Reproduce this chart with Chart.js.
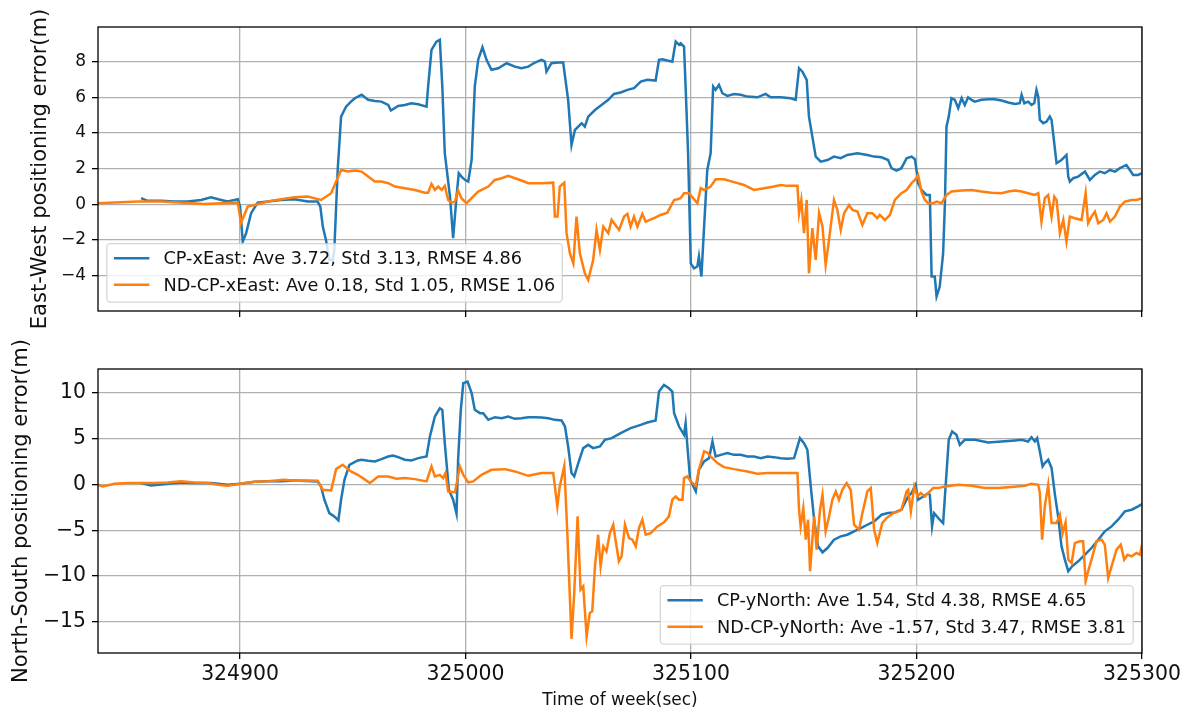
<!DOCTYPE html>
<html>
<head>
<meta charset="utf-8">
<title>Positioning error</title>
<script src="https://cdn.jsdelivr.net/npm/chart.js@4.4.1/dist/chart.umd.min.js"></script>
<style>
  html, body { margin: 0; padding: 0; background: #fff; }
  #wrap { position: relative; width: 1193px; height: 713px; overflow: hidden; }
  canvas { position: absolute; left: 0; }
  #east { top: 0; }
  #north { top: 340px; }
</style>
</head>
<body>
<div id="wrap">
  <canvas id="east" width="1193" height="340"></canvas>
  <canvas id="north" width="1193" height="373"></canvas>
</div>
<script>
// ---- tick values ----
const timeTicks = [324900, 325000, 325100, 325200, 325300];
const eastTicks = [-4, -2, 0, 2, 4, 6, 8];
const northTicks = [-15, -10, -5, 0, 5, 10];

// ---- legend labels ----
const eastLabels = [
  'CP-xEast: Ave 3.72, Std 3.13, RMSE 4.86',
  'ND-CP-xEast: Ave 0.18, Std 1.05, RMSE 1.06'
];
const northLabels = [
  'CP-yNorth: Ave 1.54, Std 4.38, RMSE 4.65',
  'ND-CP-yNorth: Ave -1.57, Std 3.47, RMSE 3.81'
];

// ---- East-West error, CP solution ----
const eastTimeCP = [324856.1,324859.0,324865.0,324870.9,324876.8,324882.7,324887.1,324891.6,324894.5,324899.0,324900.0,324901.2,324902.7,324904.9,324907.8,324912.3,324918.2,324924.1,324930.0,324934.4,324935.6,324936.7,324938.1,324939.6,324941.1,324941.8,324943.3,324944.8,324947.0,324949.2,324950.9,324953.9,324956.8,324959.8,324962.7,324965.7,324966.9,324970.1,324973.1,324976.0,324979.0,324982.7,324983.4,324984.9,324987.1,324988.6,324989.7,324990.8,324993.1,324994.5,324996.0,324997.0,324998.2,324999.7,325001.2,325002.7,325004.1,325005.6,325007.5,325009.3,325011.5,325014.5,325018.2,325021.9,325024.8,325027.8,325030.8,325033.7,325035.2,325035.9,325038.1,325041.1,325043.3,325045.5,325047.0,325048.5,325051.5,325052.9,325054.4,325057.4,325060.3,325063.3,325065.8,325068.8,325071.8,325074.7,325077.7,325080.6,325084.3,325085.8,325087.3,325089.5,325091.7,325093.2,325094.7,325095.4,325096.9,325097.6,325098.7,325099.9,325101.3,325102.8,325103.5,325104.6,325105.8,325107.2,325108.7,325109.8,325110.9,325112.4,325113.9,325116.1,325119.1,325122.0,325125.0,325129.4,325133.1,325135.3,325139.8,325144.2,325146.4,325147.9,325149.4,325151.3,325152.3,325153.8,325155.3,325157.5,325160.5,325163.4,325166.4,325169.3,325173.8,325178.2,325181.2,325184.5,325187.4,325188.9,325191.1,325193.3,325195.6,325197.8,325199.3,325200.0,325200.7,325202.2,325204.4,325205.9,325206.7,325208.1,325208.9,325210.3,325211.8,325212.6,325213.3,325214.3,325215.5,325217.0,325218.5,325220.0,325221.4,325222.9,325224.4,325225.9,325228.8,325231.8,325234.7,325237.7,325240.7,325243.6,325245.8,325246.6,325247.8,325249.5,325251.0,325252.2,325253.2,325254.0,325254.7,325256.2,325257.7,325259.1,325259.9,325262.1,325264.3,325266.5,325267.3,325268.0,325269.5,325271.7,325274.7,325276.9,325279.1,325281.3,325283.5,325285.8,325288.0,325290.2,325293.1,325296.1,325298.3,325300.0];
const eastCP = [0.34,0.19,0.19,0.15,0.15,0.24,0.39,0.24,0.15,0.28,-0.13,-2.09,-1.62,-0.50,0.09,0.15,0.24,0.28,0.15,0.15,-0.13,-1.25,-2.00,-3.12,-3.12,-2.56,1.92,4.91,5.47,5.75,5.94,6.13,5.85,5.79,5.75,5.56,5.25,5.51,5.56,5.66,5.60,5.47,6.59,8.65,9.11,9.21,6.59,2.86,0.43,-1.90,0.43,1.74,1.55,1.37,1.27,2.48,6.59,8.09,8.80,8.09,7.53,7.62,7.90,7.71,7.62,7.71,7.94,8.09,7.99,7.43,7.90,7.94,7.94,5.85,3.32,4.16,4.54,4.35,4.91,5.28,5.56,5.85,6.18,6.26,6.41,6.50,6.87,6.97,6.93,8.09,8.12,8.05,7.99,9.11,8.93,9.02,8.83,6.59,2.86,-3.31,-3.59,-3.49,-2.93,-4.05,-1.25,1.92,2.86,6.59,6.41,6.69,6.22,6.07,6.18,6.13,6.03,5.99,6.18,5.99,5.99,5.94,5.85,7.62,7.43,6.97,4.91,3.79,2.67,2.39,2.48,2.67,2.58,2.76,2.86,2.76,2.67,2.63,2.48,2.02,1.89,2.02,2.58,2.67,2.52,1.92,1.18,0.80,0.52,0.52,-4.05,-4.05,-5.17,-4.61,-2.75,0.06,4.35,4.91,5.94,5.85,5.38,5.94,5.56,5.99,5.85,5.75,5.85,5.88,5.88,5.81,5.70,5.62,5.66,6.13,5.66,5.75,5.56,5.66,6.41,6.03,4.72,4.54,4.63,4.91,4.72,2.30,2.48,2.76,1.55,1.27,1.46,1.55,1.83,1.36,1.64,1.83,1.74,1.92,1.83,2.02,2.20,1.64,1.64,1.74];

// ---- East-West error, ND-CP solution ----
const eastTimeND = [324836.9,324854.6,324865.0,324884.2,324899.0,324900.4,324903.4,324906.4,324912.3,324918.2,324924.1,324930.0,324935.9,324940.4,324944.8,324947.8,324950.9,324953.9,324956.8,324959.8,324962.7,324965.7,324968.7,324973.1,324977.5,324982.0,324983.4,324984.9,324986.4,324987.9,324989.4,324990.8,324992.3,324993.8,324995.3,324996.7,324998.2,325000.4,325002.7,325005.6,325010.1,325013.0,325016.0,325018.9,325021.9,325024.8,325027.8,325033.7,325038.9,325039.6,325040.8,325041.8,325043.8,325044.8,325046.3,325047.8,325049.2,325050.7,325052.9,325054.4,325056.6,325058.1,325059.6,325061.1,325063.3,325064.8,325068.1,325070.3,325071.8,325073.2,325074.7,325076.2,325078.4,325079.9,325083.6,325086.5,325089.5,325092.5,325093.9,325095.4,325096.9,325099.1,325102.8,325104.3,325105.8,325108.7,325110.9,325114.6,325118.3,325123.5,325127.9,325132.4,325136.8,325139.8,325142.7,325147.2,325147.9,325148.9,325150.1,325151.3,325152.3,325153.8,325155.3,325156.8,325158.3,325159.7,325161.2,325163.4,325164.9,325166.4,325167.9,325170.1,325171.6,325173.8,325176.0,325178.2,325180.4,325182.6,325183.7,325186.0,325188.2,325190.4,325193.3,325195.6,325197.8,325199.3,325200.7,325202.2,325203.7,325205.2,325207.4,325208.9,325211.1,325213.3,325215.5,325220.0,325224.4,325228.8,325233.3,325237.7,325240.7,325243.6,325246.6,325249.5,325252.5,325254.0,325255.4,325256.9,325258.4,325259.9,325261.1,325262.1,325263.6,325265.1,325266.5,325268.0,325270.2,325273.2,325275.0,325276.1,325277.6,325279.1,325280.6,325282.8,325284.3,325285.8,325288.0,325290.2,325292.4,325295.4,325297.6,325300.0];
const eastND = [0.06,0.15,0.15,0.02,0.09,-1.06,-0.13,-0.04,0.15,0.28,0.39,0.43,0.24,0.62,1.92,1.83,1.89,1.83,1.55,1.27,1.27,1.18,0.99,0.90,0.80,0.65,0.65,1.14,0.80,0.99,0.80,1.03,0.24,0.09,0.15,0.77,0.34,0.06,0.34,0.71,0.99,1.36,1.46,1.59,1.46,1.33,1.18,1.18,1.21,-0.69,-0.69,0.99,1.21,-1.62,-2.75,-3.31,-0.69,-2.75,-3.87,-4.24,-3.12,-1.44,-2.56,-1.25,-1.62,-0.88,-1.44,-0.69,-0.54,-1.25,-0.69,-1.25,-0.54,-0.97,-0.78,-0.60,-0.47,0.24,0.28,0.34,0.62,0.62,0.06,0.90,0.80,0.99,1.40,1.40,1.27,1.08,0.80,0.90,0.99,1.08,1.03,1.03,-0.50,0.24,-1.62,0.24,-3.87,-1.34,-3.12,-0.50,-1.25,-3.40,-2.00,0.24,-0.32,-1.44,-0.50,-0.04,-0.32,-0.41,-1.16,-0.50,-0.50,-0.78,-0.60,-0.88,-0.60,0.24,0.62,0.80,1.18,1.36,1.64,0.71,0.24,0.06,0.06,0.15,0.06,0.52,0.71,0.77,0.80,0.71,0.65,0.62,0.71,0.77,0.71,0.62,0.52,0.62,-0.97,0.34,0.52,-0.69,0.43,0.24,-1.62,-0.88,-2.09,-0.69,-0.78,-0.88,0.62,-1.06,-0.69,-0.41,-1.06,-0.88,-0.50,-0.97,-0.69,-0.13,0.15,0.24,0.24,0.34];

// ---- North-South error, CP solution ----
const northTimeCP = [324856.1,324860.5,324865.0,324873.8,324879.7,324887.1,324894.5,324900.0,324906.4,324912.3,324918.2,324924.1,324934.4,324935.9,324937.4,324939.6,324941.8,324943.6,324944.8,324946.3,324948.5,324952.2,324953.9,324956.8,324959.8,324962.7,324965.7,324967.9,324970.1,324973.1,324976.0,324979.0,324982.7,324984.2,324986.4,324988.6,324989.7,324990.8,324992.6,324994.5,324996.0,324996.7,324997.9,324999.0,325000.9,325002.7,325004.1,325006.4,325007.8,325010.1,325013.0,325016.0,325018.9,325021.9,325024.8,325027.8,325030.8,325033.7,325036.7,325039.6,325042.6,325044.1,325045.5,325047.0,325048.2,325050.0,325052.2,325054.4,325056.6,325059.6,325061.8,325064.8,325068.8,325073.2,325077.7,325080.6,325084.3,325085.8,325088.0,325090.2,325091.7,325092.5,325094.7,325096.9,325097.6,325098.4,325099.6,325102.1,325103.5,325105.8,325108.0,325109.5,325110.9,325113.2,325116.1,325119.1,325122.0,325125.0,325127.9,325130.9,325133.9,325136.8,325139.8,325142.7,325145.7,325148.3,325150.1,325151.6,325153.1,325154.6,325156.3,325158.3,325160.5,325163.4,325166.4,325169.3,325172.3,325175.3,325178.2,325181.2,325184.5,325187.4,325190.4,325193.3,325196.3,325197.8,325199.6,325200.7,325203.0,325205.2,325205.9,325206.9,325207.8,325210.3,325211.8,325212.9,325214.3,325215.8,325217.7,325219.2,325221.4,325225.9,325231.8,325237.7,325243.6,325246.6,325249.5,325251.0,325252.5,325253.5,325254.7,325255.9,325256.9,325258.4,325259.9,325261.4,325262.8,325264.3,325265.8,325267.3,325269.0,325271.7,325274.7,325277.6,325280.6,325283.5,325286.5,325289.4,325292.4,325295.4,325298.3,325300.0];
const northCP = [0.15,-0.11,0.00,0.22,0.15,0.15,-0.04,0.07,0.29,0.36,0.36,0.44,0.33,-0.22,-1.67,-3.13,-3.49,-3.92,-1.67,0.51,2.14,2.62,2.69,2.58,2.51,2.76,3.05,3.16,2.98,2.69,2.62,2.87,3.05,5.23,7.41,8.32,8.14,4.51,-0.58,-1.67,-3.20,2.69,8.14,11.05,11.23,9.96,8.14,7.78,7.78,7.05,7.34,7.23,7.41,7.16,7.23,7.34,7.34,7.30,7.23,7.05,6.98,6.32,4.14,1.24,0.87,2.33,3.96,4.32,3.96,4.14,4.87,5.05,5.60,6.14,6.50,6.76,6.98,10.14,10.86,10.50,10.14,7.78,6.32,5.41,6.69,4.14,0.51,-0.76,1.60,2.51,2.87,4.69,3.05,3.23,3.42,3.23,3.23,3.05,3.05,2.87,3.05,2.98,2.87,2.80,2.87,5.05,4.51,3.78,-0.22,-3.85,-6.76,-7.41,-6.94,-6.03,-5.67,-5.49,-5.12,-4.76,-4.40,-4.03,-3.31,-3.13,-3.05,-2.76,-1.31,-0.94,-0.04,-1.67,-1.31,-0.94,-1.13,-4.58,-3.13,-3.85,-4.22,-0.22,4.87,5.78,5.41,4.32,4.87,4.87,4.58,4.69,4.80,4.87,4.69,5.16,4.69,5.05,3.60,1.96,2.33,2.69,1.78,-1.13,-3.49,-6.76,-8.21,-9.48,-8.94,-8.39,-7.67,-6.94,-6.03,-5.12,-4.58,-3.85,-2.94,-2.76,-2.40,-2.14];

// ---- North-South error, ND-CP solution ----
const northTimeND = [324836.9,324839.1,324844.3,324850.2,324856.1,324862.0,324867.9,324873.8,324879.7,324885.7,324890.1,324894.5,324900.0,324906.4,324912.3,324919.7,324924.1,324930.0,324934.4,324936.7,324940.4,324942.6,324945.5,324949.2,324952.2,324955.1,324957.6,324961.3,324965.7,324969.4,324973.1,324977.5,324982.7,324984.9,324986.4,324988.6,324990.1,324991.1,324992.3,324995.3,324997.5,324999.0,325001.2,325003.4,325007.1,325011.5,325017.4,325021.9,325027.8,325033.7,325038.9,325040.7,325041.8,325043.8,325045.2,325047.0,325048.2,325049.7,325051.0,325052.2,325053.7,325055.1,325056.2,325057.4,325058.8,325059.9,325061.1,325062.5,325064.0,325065.5,325066.5,325068.0,325069.2,325070.7,325072.5,325074.0,325075.5,325076.9,325078.4,325079.9,325082.1,325085.1,325088.0,325090.2,325091.7,325093.2,325094.7,325096.2,325096.9,325098.4,325099.9,325102.1,325103.5,325105.8,325107.2,325108.7,325111.7,325114.6,325119.1,325125.0,325129.4,325133.9,325139.8,325147.2,325147.9,325148.6,325149.8,325150.9,325151.9,325152.8,325153.8,325154.6,325155.7,325157.2,325158.3,325159.7,325161.2,325162.7,325164.2,325165.6,325167.1,325169.0,325170.8,325172.3,325174.5,325176.0,325178.2,325179.7,325181.2,325182.6,325184.8,325186.7,325189.7,325191.9,325193.3,325195.6,325196.3,325197.5,325199.0,325200.4,325201.9,325203.7,325205.9,325207.4,325209.6,325212.6,325218.5,325224.4,325230.3,325236.2,325242.1,325248.1,325251.0,325254.0,325254.7,325255.7,325256.9,325258.4,325259.9,325262.1,325263.6,325264.8,325266.1,325267.3,325268.8,325270.2,325272.4,325273.9,325275.0,325276.1,325277.6,325279.8,325282.1,325283.5,325285.0,325286.5,325288.7,325290.6,325292.1,325293.6,325295.4,325297.6,325299.1,325300.0];
const northND = [-0.04,-0.22,0.07,0.15,0.15,0.15,0.22,0.36,0.22,0.15,-0.04,-0.15,0.07,0.29,0.36,0.51,0.40,0.44,0.40,-0.58,-0.65,1.67,2.14,1.42,1.05,0.58,0.15,0.87,0.87,0.62,0.69,0.58,0.33,1.96,0.87,1.05,0.69,1.24,-0.76,-0.87,1.96,1.05,0.22,0.33,1.05,1.60,1.67,1.42,0.94,1.24,1.24,-2.40,-0.22,2.03,-5.67,-16.86,-11.85,-3.49,-11.48,-11.12,-16.57,-14.03,-13.84,-8.94,-5.49,-8.94,-6.76,-7.30,-5.31,-4.40,-6.03,-8.39,-7.85,-4.40,-5.85,-6.03,-6.76,-4.76,-3.85,-5.49,-5.31,-4.58,-4.14,-3.49,-1.67,-1.31,-1.67,-1.67,0.69,0.87,0.33,-0.15,1.60,3.60,3.49,3.05,2.33,1.89,1.67,1.42,1.16,1.24,1.24,1.24,-2.76,-4.58,-2.58,-6.03,-3.85,-9.48,-6.03,-3.49,-7.12,-2.76,-1.13,-5.12,-3.49,-1.67,-0.76,-1.67,-0.58,0.15,-0.58,-4.40,-4.94,-3.13,-0.76,-0.40,-4.94,-6.40,-4.22,-3.67,-3.13,-2.94,-2.76,-0.76,-0.58,-2.94,-0.22,-1.31,-0.94,-1.31,-0.76,-0.40,-0.40,-0.22,-0.04,-0.15,-0.40,-0.40,-0.29,-0.15,0.07,-0.04,-0.94,-6.03,-2.40,-0.04,-4.22,-4.22,-3.31,-5.31,-4.14,-8.21,-8.58,-6.40,-6.21,-6.21,-10.57,-9.48,-8.21,-6.21,-6.03,-6.58,-10.21,-8.94,-7.12,-6.58,-8.21,-7.67,-7.85,-7.49,-7.67,-6.58];

// ---- styling ----
const FONT = '"DejaVu Sans", "Liberation Sans", Arial, sans-serif';
const BLUE = '#1f77b4';
const ORANGE = '#ff7f0e';
const GRID = '#b0b0b0';
const INK = '#111111';
const LINE_W = 2.5;
const AXIS_W = 1.3;

const pairs = (times, values) => times.map((t, i) => ({ x: t, y: values[i] }));
const withMinus = v => String(v).replace('-', '\u2212');
const fixedTicks = list => scale => { scale.ticks = list.map(v => ({ value: v })); };

// frame, rotated y title and boxed legend drawn on top of the plot
const decorPlugin = {
  id: 'decor',
  afterDatasetsDraw(chart) {
    const { ctx, chartArea: a } = chart;
    ctx.save();
    ctx.strokeStyle = '#000';
    ctx.lineWidth = AXIS_W;
    ctx.strokeRect(a.left, a.top, a.right - a.left, a.bottom - a.top);
    ctx.restore();
  },
  afterDraw(chart, args, opts) {
    const { ctx, chartArea: a } = chart;

    // y axis title
    ctx.save();
    ctx.translate(opts.titleX, (a.top + a.bottom) / 2);
    ctx.rotate(-Math.PI / 2);
    ctx.font = `${opts.titleSize}px ${FONT}`;
    ctx.fillStyle = INK;
    ctx.textAlign = 'center';
    ctx.textBaseline = 'middle';
    ctx.fillText(opts.title, 0, 0);
    ctx.restore();

    // legend box
    const fs = opts.legendSize;
    const labels = chart.data.datasets.slice().sort((p, q) => p.legendIndex - q.legendIndex);
    ctx.save();
    ctx.font = `${fs}px ${FONT}`;
    const tw = Math.max(...labels.map(d => ctx.measureText(d.label).width));
    const bp = 0.4 * fs, hl = 2.0 * fs, hp = 0.8 * fs, ap = 0.5 * fs;
    const w = bp + hl + hp + tw + bp;
    const h = 58.5;
    const x0 = opts.legendSide === 'left' ? a.left + ap : a.right - ap - w;
    const y0 = a.bottom - ap - h;
    const r = 0.2 * fs;
    ctx.beginPath();
    ctx.moveTo(x0 + r, y0);
    ctx.lineTo(x0 + w - r, y0);
    ctx.arcTo(x0 + w, y0, x0 + w, y0 + r, r);
    ctx.lineTo(x0 + w, y0 + h - r);
    ctx.arcTo(x0 + w, y0 + h, x0 + w - r, y0 + h, r);
    ctx.lineTo(x0 + r, y0 + h);
    ctx.arcTo(x0, y0 + h, x0, y0 + h - r, r);
    ctx.lineTo(x0, y0 + r);
    ctx.arcTo(x0, y0, x0 + r, y0, r);
    ctx.closePath();
    ctx.fillStyle = 'rgba(255,255,255,0.8)';
    ctx.fill();
    ctx.strokeStyle = 'rgba(204,204,204,0.8)';
    ctx.lineWidth = AXIS_W;
    ctx.stroke();

    labels.forEach((d, i) => {
      const ly = y0 + 14.6 + i * 26.6;
      ctx.beginPath();
      ctx.moveTo(x0 + bp, ly);
      ctx.lineTo(x0 + bp + hl, ly);
      ctx.strokeStyle = d.borderColor;
      ctx.lineWidth = LINE_W;
      ctx.stroke();
      ctx.fillStyle = INK;
      ctx.textAlign = 'left';
      ctx.textBaseline = 'alphabetic';
      ctx.fillText(d.label, x0 + bp + hl + hp, ly + 0.35 * fs);
    });
    ctx.restore();
  }
};

const gridOpts = {
  color: GRID,
  lineWidth: AXIS_W,
  drawTicks: true,
  tickLength: 6,
  tickColor: '#000',
  tickWidth: AXIS_W
};

function lineSet(label, data, color, legendIndex, order) {
  return {
    label, data, legendIndex, order,
    borderColor: color,
    backgroundColor: color,
    borderWidth: LINE_W,
    pointRadius: 0,
    pointHoverRadius: 0,
    tension: 0,
    fill: false,
    clip: 0
  };
}

function makeChart(el, cfg) {
  return new Chart(document.getElementById(el), {
    type: 'line',
    data: {
      datasets: [
        lineSet(cfg.labels[0], cfg.blue, BLUE, 0, 1),
        lineSet(cfg.labels[1], cfg.orange, ORANGE, 1, 0)
      ]
    },
    options: {
      responsive: false,
      animation: false,
      devicePixelRatio: 1,
      events: [],
      layout: { padding: cfg.padding },
      scales: {
        x: {
          type: 'linear',
          bounds: 'data',
          min: 324837,
          max: 325300,
          afterBuildTicks: fixedTicks(timeTicks),
          afterFit: s => { s.height = cfg.xHeight; },
          grid: gridOpts,
          border: { display: false },
          ticks: {
            display: cfg.showTimeLabels,
            autoSkip: false,
            maxRotation: 0,
            padding: 3.5,
            color: INK,
            font: { family: FONT, size: 20.4 },
            callback: v => String(v)
          },
          title: {
            display: cfg.showTimeLabels,
            text: 'Time of week(sec)',
            color: INK,
            font: { family: FONT, size: 17 },
            padding: { top: 0, bottom: 2.2 }
          }
        },
        y: {
          type: 'linear',
          bounds: 'data',
          min: cfg.yMin,
          max: cfg.yMax,
          afterBuildTicks: fixedTicks(cfg.yTicks),
          afterFit: s => { s.width = 98; },
          grid: gridOpts,
          border: { display: false },
          ticks: {
            autoSkip: false,
            padding: 6,
            color: INK,
            font: { family: FONT, size: cfg.yTickSize },
            callback: v => withMinus(v)
          }
        }
      },
      plugins: {
        legend: { display: false },
        tooltip: { enabled: false },
        decor: {
          title: cfg.yTitle,
          titleX: cfg.yTitleX,
          titleSize: 21,
          legendSide: cfg.legendSide,
          legendSize: 17.7
        }
      }
    },
    plugins: [decorPlugin]
  });
}

makeChart('east', {
  labels: eastLabels,
  blue: pairs(eastTimeCP, eastCP),
  orange: pairs(eastTimeND, eastND),
  padding: { left: 0, top: 27, right: 51, bottom: 0 },
  xHeight: 29,
  showTimeLabels: false,
  yMin: -5.98, yMax: 9.93,
  yTicks: eastTicks,
  yTickSize: 17,
  yTitle: 'East-West positioning error(m)',
  yTitleX: 41,
  legendSide: 'left'
});

makeChart('north', {
  labels: northLabels,
  blue: pairs(northTimeCP, northCP),
  orange: pairs(northTimeND, northND),
  padding: { left: 0, top: 29, right: 51, bottom: 0 },
  xHeight: 60,
  showTimeLabels: true,
  yMin: -18.4, yMax: 12.6,
  yTicks: northTicks,
  yTickSize: 20.4,
  yTitle: 'North-South positioning error(m)',
  yTitleX: 22,
  legendSide: 'right'
});
</script>
</body>
</html>
